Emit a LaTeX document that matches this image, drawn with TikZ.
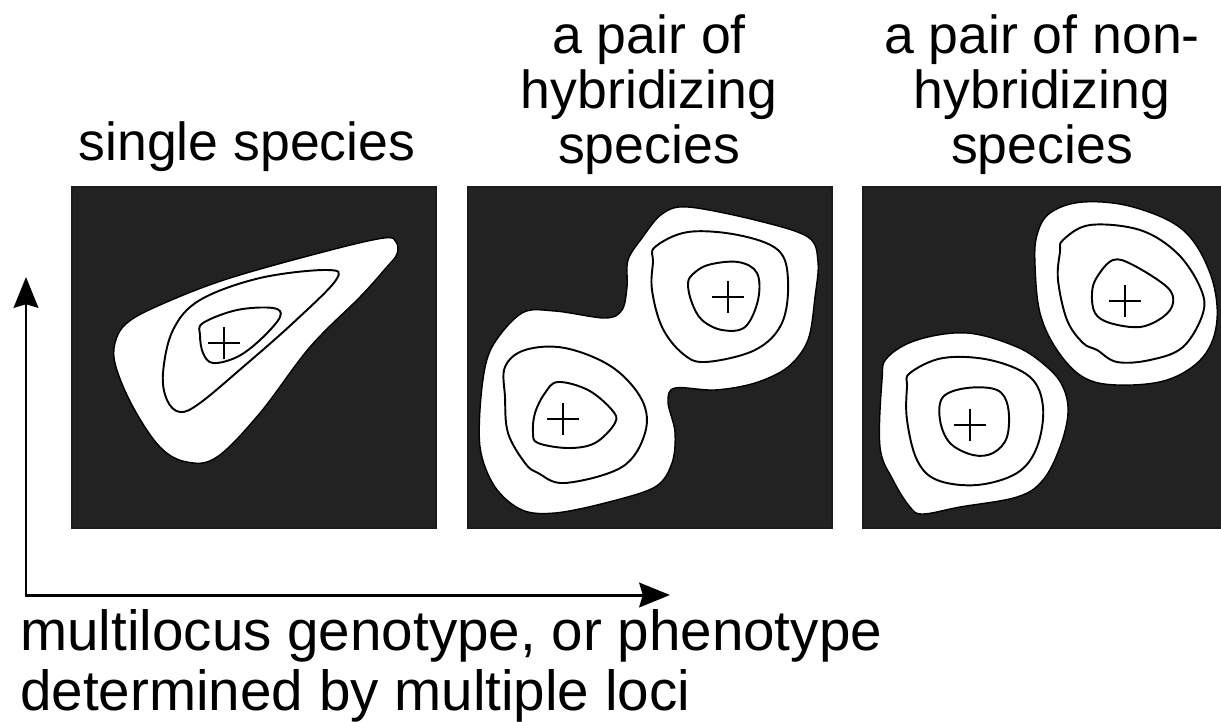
\documentclass[tikz,border=0pt]{standalone}
\usepackage{fontspec}
\setmainfont{Liberation Sans}
\usetikzlibrary{arrows.meta}
\definecolor{panelgray}{RGB}{34,34,34}

\begin{document}
\begin{tikzpicture}[
    x=0.02cm, y=-0.02cm,
    panel/.style={fill=panelgray, draw=panelgray!80!black, line width=0.6pt},
    blob/.style={fill=white, draw=black, line width=0.8pt},
    contour/.style={draw=black, line width=1.1pt},
    peak/.style={draw=black, line width=1.1pt},
    axis/.style={{Stealth[length=17.5pt, width=14pt, inset=2pt]}-{Stealth[length=17.5pt, width=14pt, inset=2pt]}, line width=1.7pt},
    title/.style={font=\fontsize{30.5pt}{31.2pt}\selectfont, align=center, anchor=base, inner sep=0pt},
    caption/.style={font=\fontsize{32.2pt}{34pt}\selectfont, align=left, anchor=base west, inner sep=0pt}
]
    \useasboundingbox (0,0) rectangle (1221,721);

    % panels
    \fill[panel] (72,187) rectangle (436,528);
    \fill[panel] (468,187) rectangle (832,528);
    \fill[panel] (863,187) rectangle (1222,528);

    % single species
    \draw[blob] plot[smooth cycle, tension=0.6] coordinates {
        (384,238) (396,242) (397,254) (386,268) (360,297) (310,347) (260,413)
        (217,457) (187,462) (160,447) (133,407) (116,367) (115,343) (127,323)
        (160,305) (227,279) (327,251)};
    \draw[contour] plot[smooth cycle, tension=0.6] coordinates {
        (327,270) (336,280) (293,323) (243,367) (200,403) (180,412) (167,400)
        (163,373) (173,330) (200,300) (260,278)};
    \draw[contour] plot[smooth cycle, tension=0.6] coordinates {
        (203,323) (237,310) (273,308) (280,317) (260,340) (237,357) (213,363)
        (203,353) (200,335)};

    % hybridizing pair
    \draw[blob] plot[smooth cycle, tension=0.55] coordinates {
        (688,207) (755,220) (808,237) (818,262) (815,297) (808,340) (788,367)
        (755,383) (715,390) (675,388) (668,402) (675,432) (672,463) (655,487)
        (605,503) (555,513) (522,510) (495,487) (480,447) (482,387) (492,347)
        (522,313) (555,311) (605,318) (622,310) (627,287) (628,260) (642,238)
        (662,214)};
    \draw[contour] plot[smooth cycle, tension=0.6] coordinates {
        (655,247) (688,232) (738,235) (778,250) (788,280) (782,323) (755,350)
        (705,362) (682,353) (662,327) (652,290) (653,262)};
    \draw[contour] plot[smooth cycle, tension=0.6] coordinates {
        (692,275) (708,265) (738,262) (757,273) (758,300) (745,327) (722,330)
        (702,320) (692,303) (688,285)};
    \draw[contour] plot[smooth cycle, tension=0.6] coordinates {
        (505,367) (525,350) (565,348) (612,367) (642,400) (645,433) (622,467)
        (565,483) (538,473) (525,463) (508,433) (505,397)};
    \draw[contour] plot[smooth cycle, tension=0.6] coordinates {
        (545,393) (558,382) (588,390) (612,410) (615,423) (595,443) (568,448)
        (538,443) (533,433) (535,413)};

    % non-hybridizing pair
    \draw[blob] plot[smooth cycle, tension=0.6] coordinates {
        (1037,235) (1050,213) (1083,202) (1133,207) (1183,230) (1210,273)
        (1217,320) (1203,357) (1167,380) (1117,385) (1083,377) (1057,350)
        (1040,313) (1035,265)};
    \draw[contour] plot[smooth cycle, tension=0.6] coordinates {
        (1063,240) (1090,225) (1140,230) (1177,253) (1200,287) (1203,313)
        (1183,347) (1150,360) (1117,362) (1097,350) (1083,343) (1067,320)
        (1058,280) (1060,252)};
    \draw[contour] plot[smooth cycle, tension=0.6] coordinates {
        (1097,277) (1113,260) (1133,265) (1167,287) (1173,303) (1163,317)
        (1140,327) (1110,323) (1095,313) (1092,293)};
    \draw[blob] plot[smooth cycle, tension=0.6] coordinates {
        (887,358) (917,340) (967,333) (1017,347) (1047,367) (1063,387)
        (1068,413) (1060,447) (1043,480) (1017,497) (960,507) (923,514)
        (910,507) (893,480) (880,447) (882,380)};
    \draw[contour] plot[smooth cycle, tension=0.6] coordinates {
        (910,373) (943,358) (990,360) (1030,377) (1043,407) (1037,447)
        (1017,473) (977,485) (937,480) (917,460) (907,420) (907,387)};
    \draw[contour] plot[smooth cycle, tension=0.6] coordinates {
        (943,397) (967,388) (997,390) (1008,407) (1007,437) (993,453)
        (973,455) (950,443) (940,420)};

    % peaks
    \foreach \cx/\cy in {224/343, 728/297, 563/419, 1125/301, 970/425}
        \draw[peak] (\cx-16,\cy) -- (\cx+16,\cy) (\cx,\cy-16) -- (\cx,\cy+16);

    % titles (base = last line)
    \node[title] (single) at (247,160) {single species};
    \node[title] (hybrid) at (649,163) {a pair of\\hybridizing\\species};
    \node[title] (nonhybrid) at (1042,163) {a pair of non-\\hybridizing\\species};

    % axes
    \coordinate (ytip) at (26,277);
    \coordinate (xtip) at (670,595);
    \draw[axis] (ytip) |- (xtip);

    \node[caption] (xlabel) at (20,710) {multilocus genotype, or phenotype\\determined by multiple loci};
\end{tikzpicture}
\end{document}
